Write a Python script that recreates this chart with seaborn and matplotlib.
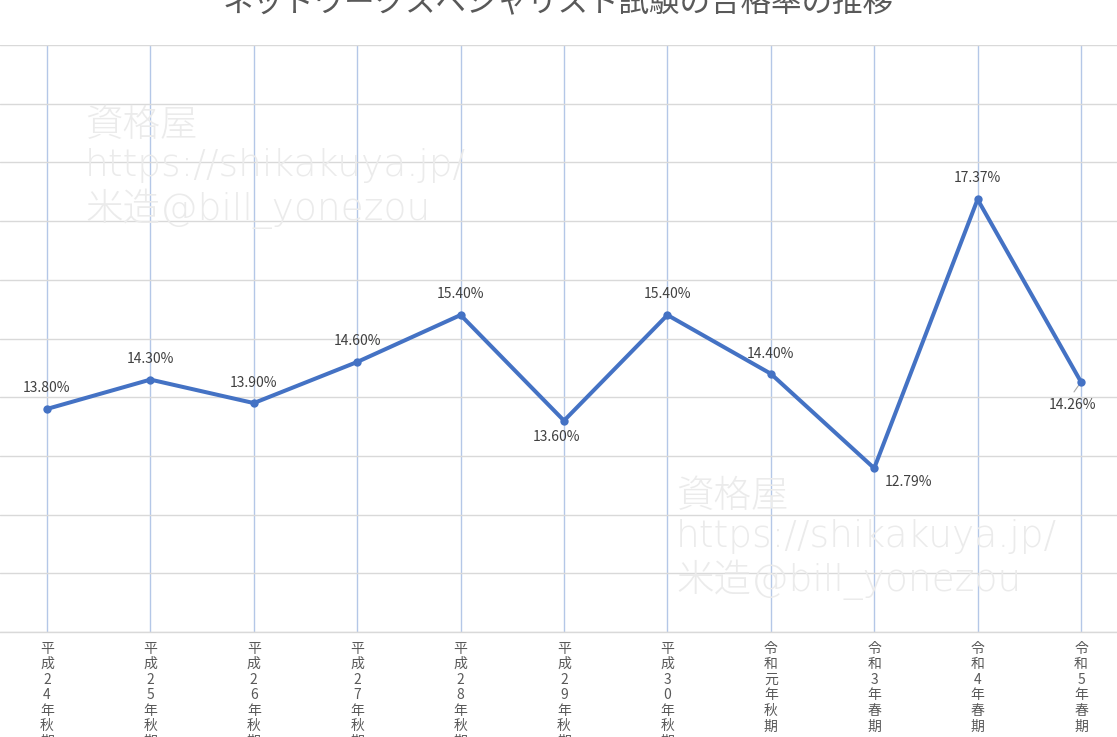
import matplotlib
matplotlib.use("Agg")
import matplotlib.pyplot as plt
import seaborn as sns
import numpy as np
import pandas as pd

terms = ["平成24年秋期", "平成25年秋期", "平成26年秋期", "平成27年秋期", "平成28年秋期",
         "平成29年秋期", "平成30年秋期", "令和元年秋期", "令和3年春期", "令和4年春期", "令和5年春期"]
rates = [13.80, 14.30, 13.90, 14.60, 15.40, 13.60, 15.40, 14.40, 12.79, 17.37, 14.26]
title = "ネットワークスペシャリスト試験の合格率の推移"
watermark = "資格屋\nhttps://shikakuya.jp/\n米造@bill_yonezou"

# label offsets in pixels (dx, dy), Excel-ish placement
label_offsets = [(0, 21), (0, 21), (0, 20), (0, 21), (0, 21), (-8, -16),
                 (0, 21), (0, 20), (34, -14), (0, 21), (-8, -23)]

sns.set_theme(style="white")
plt.rcParams['font.family'] = ['Noto Sans CJK JP', 'DejaVu Sans']

df = pd.DataFrame({"term": terms, "rate": rates})

fig = plt.figure(figsize=(11.17, 7.37), dpi=100)
ax = fig.add_axes([0, 105 / 737, 1, 587 / 737])

sns.lineplot(data=df, x="term", y="rate", ax=ax, color="#4472C4", linewidth=2.9,
             marker="o", markersize=6, markeredgewidth=0, sort=False, zorder=5)

ax.set_ylim(10, 20)
ax.set_xlim(-47 / 103.4, (1117 - 47) / 103.4)
ax.set_yticks(np.arange(10, 21, 1))
ax.set_yticklabels([])
ax.set_xticks(range(len(terms)))
ax.set_xticklabels(["\n".join(t) for t in terms], fontsize=10, color="#595959",
                   linespacing=1.14, va="top")
ax.tick_params(axis="x", length=0, pad=7)
ax.tick_params(axis="y", length=0)
ax.set_xlabel("")
ax.set_ylabel("")

ax.grid(axis="y", color="#D9D9D9", linewidth=1)
ax.grid(axis="x", color="#B4C7E7", linewidth=1)
ax.set_axisbelow(True)
for s in ["left", "right", "top"]:
    ax.spines[s].set_visible(False)
ax.spines["bottom"].set_color("#D9D9D9")
ax.spines["bottom"].set_linewidth(1)

for i, (v, off) in enumerate(zip(rates, label_offsets)):
    ax.annotate(f"{v:.2f}%", (i, v), xytext=off, textcoords="offset pixels",
                ha="center", va="center", fontsize=10, color="#404040", zorder=6)
# leader line for the last label
ax.annotate("", (len(rates) - 1, rates[-1]), xytext=(-7, -10), textcoords="offset pixels",
            arrowprops=dict(arrowstyle="-", color="#A6A6A6", lw=0.8, shrinkA=0, shrinkB=3))

for x0, y0 in [(85, 108), (676, 479)]:
    fig.text(x0 / 1117, 1 - y0 / 737, watermark, ha="left", va="top", fontsize=27,
             color="#EBEBEB", linespacing=1.17, zorder=0, fontweight="light",
             family=["DejaVu Sans", "Noto Sans CJK JP"])

fig.text(0.5, 1 - 3 / 737, title, ha="center", va="center", fontsize=22, color="#595959")

fig.savefig("out.png", dpi=100)
